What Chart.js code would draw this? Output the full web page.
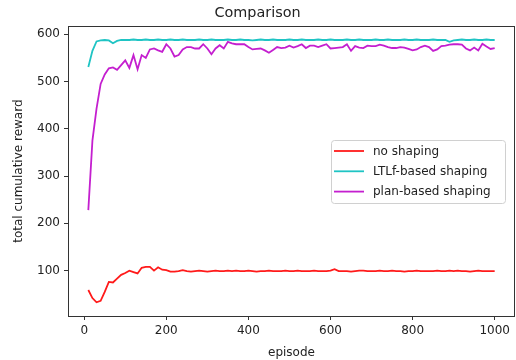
<!DOCTYPE html>
<html>
<head>
<meta charset="utf-8">
<script src="https://cdn.jsdelivr.net/npm/chart.js@4/dist/chart.umd.min.js"></script>
<style>
  html, body { margin: 0; padding: 0; background: #fff; }
  #wrap { width: 516px; height: 360px; }
</style>
</head>
<body>
<div id="wrap"><canvas id="chart" width="516" height="360"></canvas></div>
<script>
const episodes = [
  10, 20, 30, 40, 50, 60, 70, 80, 90, 100,
  110, 120, 130, 140, 150, 160, 170, 180, 190, 200,
  210, 220, 230, 240, 250, 260, 270, 280, 290, 300,
  310, 320, 330, 340, 350, 360, 370, 380, 390, 400,
  410, 420, 430, 440, 450, 460, 470, 480, 490, 500,
  510, 520, 530, 540, 550, 560, 570, 580, 590, 600,
  610, 620, 630, 640, 650, 660, 670, 680, 690, 700,
  710, 720, 730, 740, 750, 760, 770, 780, 790, 800,
  810, 820, 830, 840, 850, 860, 870, 880, 890, 900,
  910, 920, 930, 940, 950, 960, 970, 980, 990, 1000,
];

const noShaping = [
  59, 42, 33, 36, 55, 76, 75, 83, 91, 95,
  100, 97, 94, 106, 108, 108, 100, 107, 102, 101,
  98, 98, 99, 101, 99, 98, 99, 100, 99, 98,
  99, 100, 99, 99, 100, 99, 100, 99, 99, 100,
  99, 98, 99, 99, 100, 99, 99, 99, 100, 99,
  99, 100, 99, 99, 99, 100, 99, 99, 99, 100,
  103, 99, 99, 99, 98, 99, 100, 100, 99, 99,
  99, 100, 99, 99, 100, 99, 99, 98, 99, 99,
  100, 99, 99, 99, 99, 100, 99, 99, 100, 99,
  100, 99, 99, 98, 99, 100, 99, 99, 99, 99,
];

const ltlfShaping = [
  531, 565, 585, 587, 588, 587, 581, 586, 588, 588,
  588, 589, 588, 588, 589, 588, 588, 589, 588, 588,
  589, 588, 588, 589, 588, 588, 588, 589, 588, 588,
  589, 588, 588, 588, 589, 588, 588, 589, 588, 588,
  587, 588, 589, 588, 588, 589, 588, 588, 588, 589,
  588, 588, 589, 588, 588, 588, 589, 588, 588, 589,
  588, 588, 588, 589, 588, 588, 589, 588, 588, 588,
  589, 588, 588, 589, 588, 588, 588, 589, 588, 588,
  589, 588, 588, 588, 589, 588, 588, 588, 584, 587,
  588, 589, 588, 588, 589, 588, 588, 589, 588, 588,
];

const planShaping = [
  228, 375, 443, 495, 515, 528, 530, 525, 535, 545,
  529, 556, 526, 556, 550, 568, 570, 566, 563, 579,
  570, 553, 556, 568, 573, 573, 570, 570, 579, 570,
  558, 570, 577, 570, 584, 581, 579, 579, 579, 573,
  568, 569, 570, 566, 561, 567, 573, 571, 572, 576,
  572, 575, 579, 571, 576, 576, 573, 576, 579, 570,
  571, 572, 573, 579, 565, 575, 572, 571, 576, 575,
  575, 578, 576, 573, 571, 571, 573, 572, 569, 566,
  568, 573, 576, 573, 565, 568, 575, 576, 578, 579,
  579, 578, 570, 566, 572, 566, 580, 574, 569, 571,
];

const xTicks = [0, 200, 400, 600, 800, 1000];
const yTicks = [100, 200, 300, 400, 500, 600];

const seriesNames = ['no shaping', 'LTLf-based shaping', 'plan-based shaping'];
const seriesColors = ['#ff1a1a', '#1fc4c4', '#c41fcf'];

const font = 'DejaVu Sans';
const ink = '#222';

const toPoints = (values) => values.map((v, i) => ({ x: episodes[i], y: v }));

// axes frame on all four sides, like matplotlib spines
const framePlugin = {
  id: 'frame',
  afterDraw(chart) {
    const { ctx, chartArea: a } = chart;
    ctx.save();
    ctx.strokeStyle = '#333';
    ctx.lineWidth = 1;
    ctx.strokeRect(Math.round(a.left) + 0.5, Math.round(a.top) + 0.5,
      Math.round(a.right - a.left) - 1, Math.round(a.bottom - a.top));
    ctx.restore();
  },
};

// legend box drawn inside the plot
const boxLegend = {
  id: 'boxLegend',
  afterDraw(chart) {
    const { ctx } = chart;
    const x0 = 331, y0 = 140, w = 174, h = 63;
    ctx.save();
    ctx.fillStyle = 'rgba(255,255,255,0.85)';
    ctx.strokeStyle = '#d0d0d0';
    ctx.lineWidth = 1;
    ctx.beginPath();
    ctx.roundRect(x0 + 0.5, y0 + 0.5, w, h, 3);
    ctx.fill();
    ctx.stroke();
    ctx.font = `12px "${font}"`;
    ctx.textBaseline = 'middle';
    chart.data.datasets.forEach((ds, i) => {
      const y = y0 + 11 + i * 20.3;
      ctx.strokeStyle = ds.borderColor;
      ctx.lineWidth = 1.8;
      ctx.beginPath();
      ctx.moveTo(x0 + 3, y);
      ctx.lineTo(x0 + 33, y);
      ctx.stroke();
      ctx.fillStyle = ink;
      ctx.fillText(ds.label, x0 + 42, y + 0.5);
    });
    ctx.restore();
  },
};

new Chart(document.getElementById('chart'), {
  type: 'line',
  data: {
    datasets: [noShaping, ltlfShaping, planShaping].map((values, i) => ({
      label: seriesNames[i],
      data: toPoints(values),
      borderColor: seriesColors[i],
      borderWidth: 1.8,
      pointRadius: 0,
      tension: 0,
      fill: false,
    })),
  },
  options: {
    responsive: false,
    animation: false,
    events: [],
    layout: { padding: { top: 1, right: 1, left: 0, bottom: 0 } },
    plugins: {
      legend: { display: false },
      tooltip: { enabled: false },
      title: {
        display: true,
        text: 'Comparison',
        color: ink,
        font: { family: font, size: 14.4, weight: 'normal' },
        padding: { top: 4, bottom: 4 },
      },
    },
    scales: {
      x: {
        type: 'linear',
        min: -39.5,
        max: 1049.5,
        afterBuildTicks: (scale) => { scale.ticks = xTicks.map((v) => ({ value: v })); },
        afterFit: (scale) => { scale.height = 44; },
        grid: { drawOnChartArea: false, drawTicks: true, tickLength: 4, color: '#333' },
        border: { display: false },
        ticks: {
          color: ink,
          padding: 4,
          maxRotation: 0,
          font: { family: font, size: 12 },
          callback: (v) => String(v),
        },
        title: {
          display: true,
          text: 'episode',
          color: ink,
          font: { family: font, size: 12 },
          padding: { top: 5, bottom: 0 },
        },
      },
      y: {
        min: 4,
        max: 617,
        afterBuildTicks: (scale) => { scale.ticks = yTicks.map((v) => ({ value: v })); },
        afterFit: (scale) => { scale.width = 68; },
        grid: { drawOnChartArea: false, drawTicks: true, tickLength: 4, color: '#333' },
        border: { display: false },
        ticks: {
          color: ink,
          padding: 4,
          font: { family: font, size: 12 },
          callback: (v) => String(v),
        },
        title: {
          display: true,
          text: 'total cumulative reward',
          color: ink,
          font: { family: font, size: 12 },
          padding: { top: 12, bottom: 4 },
        },
      },
    },
  },
  plugins: [framePlugin, boxLegend],
});
</script>
</body>
</html>
